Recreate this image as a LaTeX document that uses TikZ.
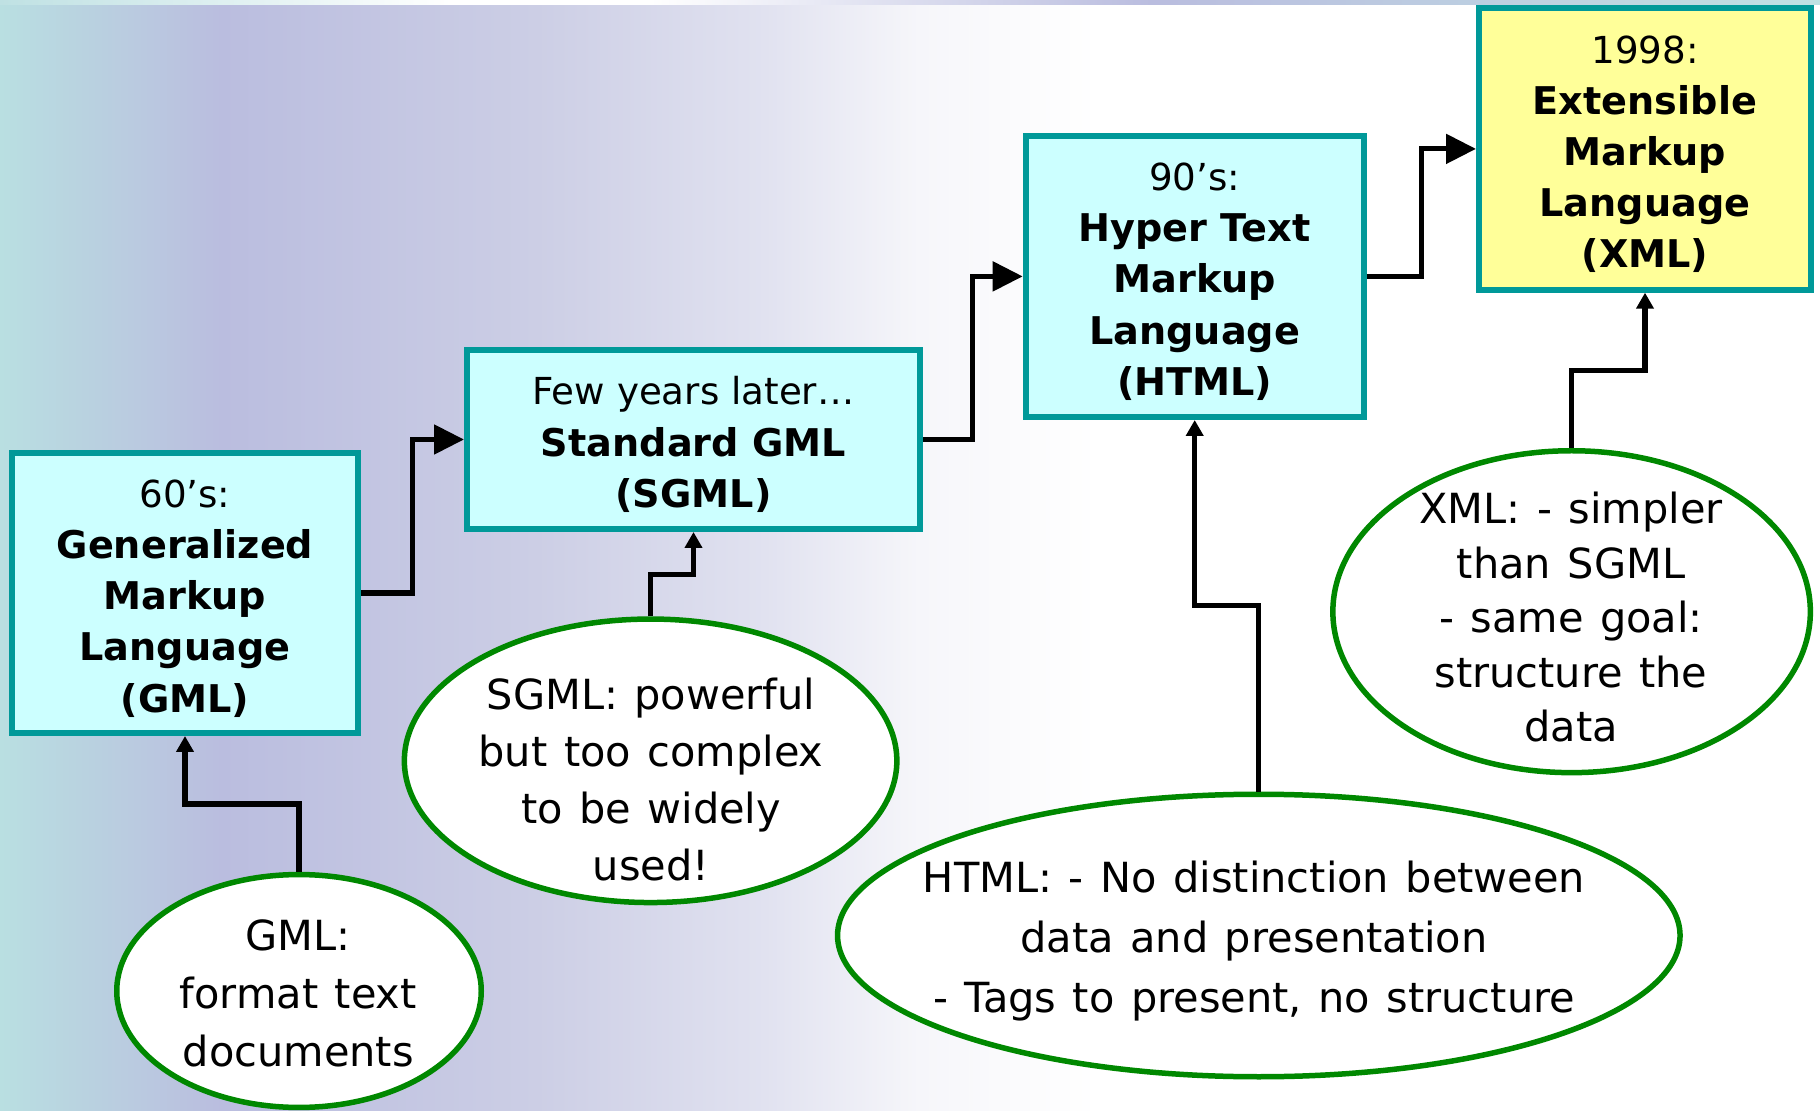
\documentclass[tikz,border=0pt]{standalone}
\usepackage{fontspec}
\setmainfont{DejaVu Sans}
\newfontfamily\bubblefont[WordSpace=1.25]{DejaVu Sans}
\usetikzlibrary{arrows.meta,shapes.geometric,calc}

\definecolor{boxteal}{HTML}{009999}
\definecolor{boxfill}{HTML}{CCFFFF}
\definecolor{xmlfill}{HTML}{FFFF99}
\definecolor{bubblegreen}{HTML}{008800}
\definecolor{bgteal}{HTML}{B9DFE1}
\definecolor{bglav}{HTML}{BABDDF}
\definecolor{bgA}{HTML}{CCCEE5}
\definecolor{bgB}{HTML}{E1E2F0}
\definecolor{bgC}{HTML}{F6F6FA}
\definecolor{stripteal}{HTML}{BFE1E3}

% bold name line inside a box
\newcommand\eraname[1]{{\fontsize{19.1}{25.6}\selectfont\bfseries #1}}

\begin{document}
\begin{tikzpicture}[x=0.5pt,y=-0.5pt,
  era/.style={draw=boxteal, line width=3pt, fill=boxfill, inner sep=0pt},
  eratext/.style={align=center, inner sep=0pt, font=\fontsize{18.6}{25.6}\selectfont},
  bubble/.style={ellipse, draw=bubblegreen, line width=2.75pt, fill=white, inner sep=0pt},
  bubbletext/.style={align=center, inner sep=0pt},
  flow/.style={line width=2.6pt, -{Triangle[length=15pt,width=14.5pt]}},
  note/.style={line width=2.6pt, -{Triangle[length=8pt,width=8.5pt]}},
]
\useasboundingbox (0,0) rectangle (1820,1111);

% background: horizontal fade from teal through lavender to white
\shade[left color=bgteal, right color=bglav] (0,0) rectangle (222,1111);
\shade[left color=bglav, right color=bgA] (221,0) rectangle (537,1111);
\shade[left color=bgA, right color=bgB] (536,0) rectangle (766,1111);
\shade[left color=bgB, right color=bgC] (765,0) rectangle (919,1111);
\shade[left color=bgC, right color=white] (918,0) rectangle (1100,1111);

% thin band along the top edge
\shade[left color=stripteal, right color=white] (0,0) rectangle (451,5);
\fill[white] (450,0) rectangle (651,5);
\shade[left color=white, right color=bglav] (650,0) rectangle (1151,5);
\shade[left color=bglav, right color=stripteal] (1150,0) rectangle (1820,5);

% the four languages
\node[era, minimum width=173pt, minimum height=140pt] (gml) at (185,593) {};
\node[era, minimum width=226.5pt, minimum height=89.5pt] (sgml) at (693.5,439.5) {};
\node[era, minimum width=169pt, minimum height=140.6pt] (html) at (1194.7,276.4) {};
\node[era, fill=xmlfill, minimum width=166pt, minimum height=140.8pt] (xml) at (1645,148.9) {};

\node[eratext] (gmltext) at (185,598.5)
  {60’s:\\\eraname{Generalized}\\\eraname{Markup}\\\eraname{Language}\\\eraname{(GML)}};
\node[eratext] (sgmltext) at (693.5,444.5)
  {Few years later…\\\eraname{Standard GML}\\\eraname{(SGML)}};
\node[eratext] (htmltext) at (1194.7,281.6)
  {90’s:\\\eraname{Hyper Text}\\\eraname{Markup}\\\eraname{Language}\\\eraname{(HTML)}};
\node[eratext] (xmltext) at (1645,154.2)
  {1998:\\\eraname{Extensible}\\\eraname{Markup}\\\eraname{Language}\\\eraname{(XML)}};

% comment bubbles
\node[bubble, minimum width=182.25pt, minimum height=116.45pt] (egml) at (299,991) {};
\node[bubble, minimum width=246.25pt, minimum height=141.75pt] (esgml) at (650.6,760.8) {};
\node[bubble, minimum width=421.25pt, minimum height=141.25pt] (ehtml) at (1258.8,935.5) {};
\node[bubble, minimum width=238.75pt, minimum height=160.95pt] (exml) at (1571.6,611.7) {};

\node[bubbletext, font=\bubblefont\fontsize{20.75}{29}\selectfont] (tgml) at (298.3,993.6)
  {GML:\\format text\\documents};
\node[bubbletext, font=\bubblefont\fontsize{20.75}{28.5}\selectfont] (tsgml) at (651,780)
  {SGML: powerful\\but too complex\\to be widely\\used!};
\node[bubbletext, font=\bubblefont\fontsize{20.75}{30}\selectfont] (thtml) at (1254,941.4)
  {HTML: - No distinction between\\data and presentation\\- Tags to present, no structure};
\node[bubbletext, font=\bubblefont\fontsize{20.75}{27.25}\selectfont] (txml) at (1571,617.5)
  {XML: - simpler\\than SGML\\- same goal:\\structure the\\data};

% succession of languages
\draw[flow] (gml.east) -| ($(gml.east)!.5!(sgml.west)$) |- (sgml.west);
\draw[flow] (sgml.east) -| ($(sgml.east)!.5!(html.west)$) |- (html.west);
\draw[flow] (html.east) -| ($(html.east)!.5!(xml.west)$) |- (xml.west);

% comments pointing at their language
\draw[note] (egml.north) |- ($(egml.north)!.5!(gml.south)$) -| (gml.south);
\draw[note] (esgml.north) |- ($(esgml.north)!.5!(sgml.south)$) -| (sgml.south);
\draw[note] (ehtml.north) |- ($(ehtml.north)!.5!(html.south)$) -| (html.south);
\draw[note] (exml.north) |- ($(exml.north)!.5!(xml.south)$) -| (xml.south);
\end{tikzpicture}
\end{document}
